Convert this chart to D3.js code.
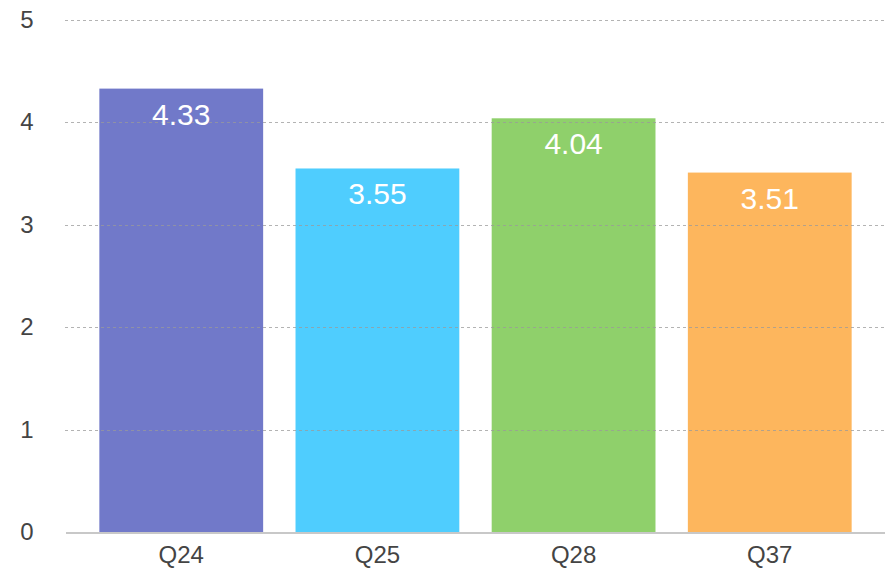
<!DOCTYPE html>
<html>
<head>
<meta charset="utf-8">
<script src="https://cdn.jsdelivr.net/npm/d3@7"></script>
<style>
  html, body { margin: 0; padding: 0; background: #fff; }
  svg { display: block; font-family: "Liberation Sans", Arial, Helvetica, sans-serif; }
</style>
</head>
<body>
<svg id="chart" width="892" height="573"></svg>
<script>
const categories = ["Q24", "Q25", "Q28", "Q37"];
const values = [4.33, 3.55, 4.04, 3.51];
const barColors = ["#7179c9", "#4fcdfe", "#8fd06b", "#fdb65d"];
const yTicks = [0, 1, 2, 3, 4, 5];

const svg = d3.select("#chart");
const margin = { left: 66, right: 885, top: 20, bottom: 532 };

const x = d3.scaleBand()
  .domain(categories)
  .range([margin.left, margin.right])
  .paddingInner(0.165)
  .paddingOuter(0.17);

const y = d3.scaleLinear().domain([0, 5]).range([margin.bottom, margin.top]);

// bars
svg.append("g").selectAll("rect")
  .data(values)
  .enter()
  .append("rect")
  .attr("x", (d, i) => x(categories[i]))
  .attr("y", d => y(d))
  .attr("width", x.bandwidth())
  .attr("height", d => y(0) - y(d))
  .attr("fill", (d, i) => barColors[i]);

// dotted grid, on top of the bars
svg.append("g").selectAll("line")
  .data(yTicks.filter(t => t > 0))
  .enter()
  .append("line")
  .attr("x1", margin.left - 1)
  .attr("x2", margin.right)
  .attr("y1", d => Math.round(y(d)) + 0.5)
  .attr("y2", d => Math.round(y(d)) + 0.5)
  .attr("stroke", "#999")
  .attr("stroke-opacity", 0.75)
  .attr("stroke-width", 1)
  .attr("stroke-dasharray", "3,3");

// baseline
svg.append("line")
  .attr("x1", margin.left)
  .attr("x2", margin.right)
  .attr("y1", y(0) + 1)
  .attr("y2", y(0) + 1)
  .attr("stroke", "#c8c8c8")
  .attr("stroke-width", 2);

// y tick labels
svg.append("g").selectAll("text")
  .data(yTicks)
  .enter()
  .append("text")
  .attr("x", 27)
  .attr("y", d => y(d) + 8)
  .attr("text-anchor", "middle")
  .attr("font-size", "24px")
  .attr("fill", "#444")
  .text(d => d);

// category labels
const xAxis = svg.append("g")
  .attr("transform", `translate(0,${y(0)})`)
  .call(d3.axisBottom(x).tickSize(0).tickPadding(14));
xAxis.select(".domain").remove();
xAxis.selectAll("text")
  .attr("font-size", "24px")
  .attr("font-family", "Liberation Sans, Arial, sans-serif")
  .attr("fill", "#444");

// value labels
svg.append("g").selectAll("text")
  .data(values)
  .enter()
  .append("text")
  .attr("x", (d, i) => x(categories[i]) + x.bandwidth() / 2)
  .attr("y", d => y(d) + 36)
  .attr("text-anchor", "middle")
  .attr("font-size", "30px")
  .attr("fill", "#fff")
  .text(d => d.toFixed(2));
</script>
</body>
</html>
